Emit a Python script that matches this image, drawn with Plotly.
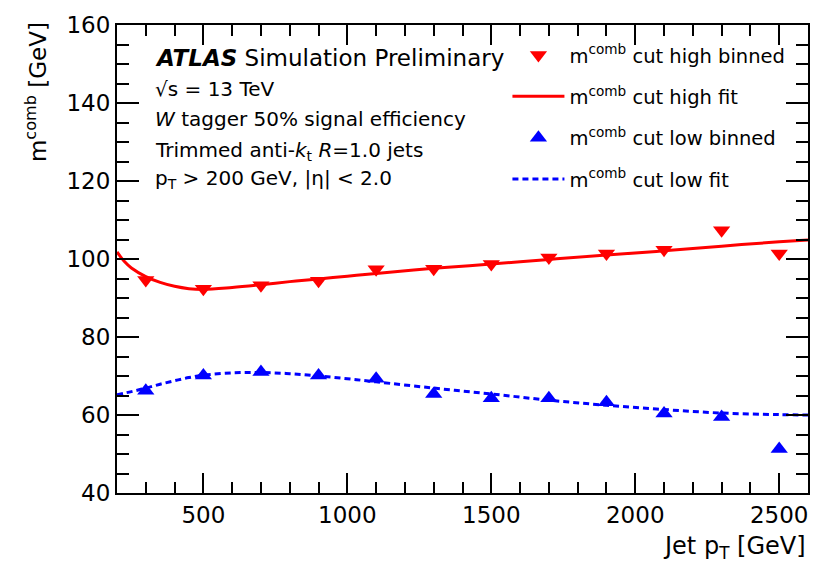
import plotly.graph_objects as go

# ---- data ----
pt_bins = [300, 500, 700, 900, 1100, 1300, 1500, 1700, 1900, 2100, 2300, 2500]
high_binned = [94.6, 92.4, 93.3, 94.4, 97.4, 97.5, 98.7, 100.4, 101.4, 102.4, 107.4, 101.4]
low_binned = [66.2, 70.1, 71.0, 70.1, 69.3, 65.4, 64.3, 64.3, 63.3, 60.4, 59.5, 51.3]

fit_pt = [200, 225, 250, 300, 350, 400, 450, 500, 600, 700, 800, 900, 1000, 1100,
          1300, 1500, 1700, 1900, 2100, 2300, 2500, 2600]
high_fit = [101.8, 99.4, 97.7, 95.5, 94.0, 93.0, 92.4, 92.2, 92.7, 93.4, 94.2, 94.9,
            95.6, 96.3, 97.6, 98.7, 99.9, 101.0, 102.1, 103.3, 104.4, 104.9]
low_fit = [65.2, 65.6, 66.0, 66.9, 67.9, 68.8, 69.6, 70.2, 70.8, 70.9, 70.6, 70.0,
           69.3, 68.5, 66.9, 65.4, 63.8, 62.5, 61.4, 60.5, 60.1, 60.0]

x_ticks = [500, 1000, 1500, 2000, 2500]
y_ticks = [40, 60, 80, 100, 120, 140, 160]

RED = "#ff0000"
BLUE = "#0000ff"
FONT = "DejaVu Sans, Liberation Sans, Arial, sans-serif"

fig = go.Figure()
fig.add_trace(go.Scatter(x=pt_bins, y=high_binned, mode="markers",
                         marker=dict(symbol="triangle-down", size=15, color=RED),
                         name="m<sup>comb</sup> cut high binned", legendgroup="a"))
fig.add_trace(go.Scatter(x=fit_pt, y=high_fit, mode="lines",
                         line=dict(color=RED, width=3, shape="spline"),
                         name="m<sup>comb</sup> cut high fit", legendgroup="b"))
fig.add_trace(go.Scatter(x=pt_bins, y=low_binned, mode="markers",
                         marker=dict(symbol="triangle-up", size=15, color=BLUE),
                         name="m<sup>comb</sup> cut low binned", legendgroup="c"))
fig.add_trace(go.Scatter(x=fit_pt, y=low_fit, mode="lines",
                         line=dict(color=BLUE, width=3, dash="6px,4px", shape="spline"),
                         name="m<sup>comb</sup> cut low fit", legendgroup="d"))

axis_common = dict(showline=True, linecolor="black", linewidth=2, mirror="ticks",
                   ticks="inside", tickcolor="black", tickwidth=1.5, showgrid=False,
                   zeroline=False, tickfont=dict(size=23, color="black", family=FONT))

fig.update_xaxes(range=[200, 2600], tickvals=x_ticks, ticklen=20,
                 minor=dict(dtick=100, ticklen=11, ticks="inside", tickcolor="black",
                            tickwidth=1.5, showgrid=False),
                 **axis_common)
fig.update_yaxes(range=[40, 160], tickvals=y_ticks, ticklen=22,
                 minor=dict(dtick=5, ticklen=12, ticks="inside", tickcolor="black",
                            tickwidth=1.5, showgrid=False),
                 **axis_common)

def px_x(p):
    return (p - 117) / 692

def px_y(p):
    return (493 - p) / 475

ann = []
ann.append(dict(text="<b><i>ATLAS</i></b> Simulation Preliminary", x=px_x(153), y=px_y(51),
                font=dict(size=23)))
lines = ["√s = 13 TeV",
         "<i>W</i> tagger 50% signal efficiency",
         "Trimmed anti-<i>k</i><sub>t</sub> <i>R</i>=1.0 jets",
         "p<sub>T</sub> > 200 GeV, |η| < 2.0"]
ys = [83, 113, 146, 174]
for t, yy in zip(lines, ys):
    ann.append(dict(text=t, x=px_x(153), y=px_y(yy), font=dict(size=20)))
for a in ann:
    a.update(xref="paper", yref="paper", xanchor="left", yanchor="middle", showarrow=False)
    a["font"].update(family=FONT, color="black")

ann.append(dict(text="m<sup>comb</sup> [GeV]", xref="paper", yref="paper",
                x=px_x(36), y=px_y(86), xanchor="center", yanchor="middle",
                textangle=-90, showarrow=False,
                font=dict(size=23, family=FONT, color="black")))
ann.append(dict(text="Jet p<sub>T</sub> [GeV]", xref="paper", yref="paper",
                x=px_x(809), y=px_y(548), xanchor="right", yanchor="middle",
                showarrow=False, font=dict(size=24, family=FONT, color="black")))

fig.update_layout(
    width=822, height=573,
    margin=dict(l=117, r=13, t=18, b=80),
    paper_bgcolor="white", plot_bgcolor="white",
    font=dict(family=FONT, color="black"),
    annotations=ann,
    showlegend=True,
    legend=dict(x=px_x(508), y=px_y(29), xanchor="left", yanchor="top",
                bgcolor="rgba(0,0,0,0)", font=dict(size=19.5, family=FONT, color="black"),
                tracegroupgap=13, itemwidth=52),
)

fig.write_html("out.html")
